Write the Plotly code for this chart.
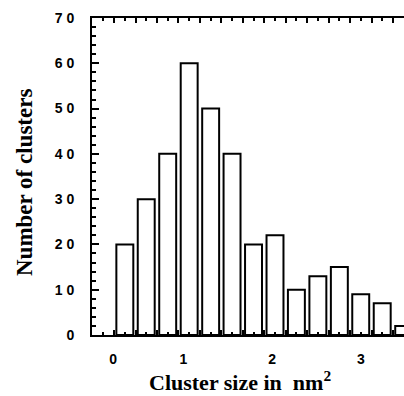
import plotly.graph_objects as go

# Data
bin_centers = [0.339, 0.580, 0.822, 1.064, 1.306, 1.547, 1.789, 2.031, 2.272, 2.514, 2.756, 2.997, 3.239, 3.481]
counts = [20, 30, 40, 60, 50, 40, 20, 22, 10, 13, 15, 9, 7, 2]
bin_width = 0.2417
bin_start = 0.218
x_label_pos = [0.206, 1, 2, 3]
x_label_text = ["0", "1", "2", "3"]
y_tick_vals = [0, 10, 20, 30, 40, 50, 60, 70]
y_tick_text = ["0", "1 0", "2 0", "3 0", "4 0", "5 0", "6 0", "7 0"]

fig = go.Figure()
fig.add_trace(go.Bar(
    x=bin_centers, y=counts, width=bin_width * 0.79,
    marker=dict(color="white", line=dict(color="black", width=2)),
))
# invisible trace for label axis
fig.add_trace(go.Scatter(x=[0.206], y=[0], xaxis="x2", mode="markers",
                         marker=dict(opacity=0), hoverinfo="skip"))

fig.update_layout(
    width=404, height=396,
    margin=dict(l=92, r=0, t=18, b=61, autoexpand=False),
    plot_bgcolor="white", paper_bgcolor="white",
    showlegend=False,
    xaxis=dict(
        range=[-0.031, 3.4845], showline=True, linecolor="black", linewidth=2,
        mirror="allticks", ticks="inside", ticklen=5, tickwidth=1.5, tickcolor="black",
        tick0=bin_start, dtick=bin_width, showticklabels=False, showgrid=False, zeroline=False,
        minor=dict(ticks="inside", ticklen=3, tickwidth=1.5, tickcolor="black",
                   dtick=bin_width / 2, tick0=bin_start, showgrid=False),
    ),
    xaxis2=dict(
        overlaying="x", side="bottom", range=[-0.031, 3.4845], matches=None,
        tickvals=x_label_pos, ticktext=x_label_text, ticks="", showline=False,
        showgrid=False, zeroline=False, ticklabelstandoff=14,
        tickfont=dict(family="Liberation Sans, Arial", size=14, color="black", weight="bold"),
    ),
    yaxis=dict(
        range=[0, 70], showline=True, linecolor="black", linewidth=2, mirror=False,
        ticks="inside", ticklen=7, tickwidth=1.5, tickcolor="black",
        tickvals=y_tick_vals, ticktext=y_tick_text, showgrid=False, zeroline=False,
        ticklabelstandoff=13,
        tickfont=dict(family="Liberation Sans, Arial", size=14, color="black", weight="bold"),
        minor=dict(ticks="inside", ticklen=4, tickwidth=1.5, tickcolor="black", dtick=2, tick0=0,
                   showgrid=False),
    ),
    annotations=[
        dict(text="Number of clusters", textangle=-90, xref="paper", yref="paper",
             x=-0.218, y=0.4826, showarrow=False, xanchor="center", yanchor="middle",
             font=dict(family="Liberation Serif, Times New Roman", size=23, color="black", weight="bold")),
        dict(text="Cluster size in\u00a0 nm<sup>2</sup>", xref="paper", yref="paper",
             x=0.474, y=-0.145, showarrow=False, xanchor="center", yanchor="middle",
             font=dict(family="Liberation Serif, Times New Roman", size=22, color="black", weight="bold")),
    ],
)

fig.write_html("out.html", config={"displayModeBar": False},
               post_script="document.body.style.margin='0';document.body.style.overflow='hidden';")
